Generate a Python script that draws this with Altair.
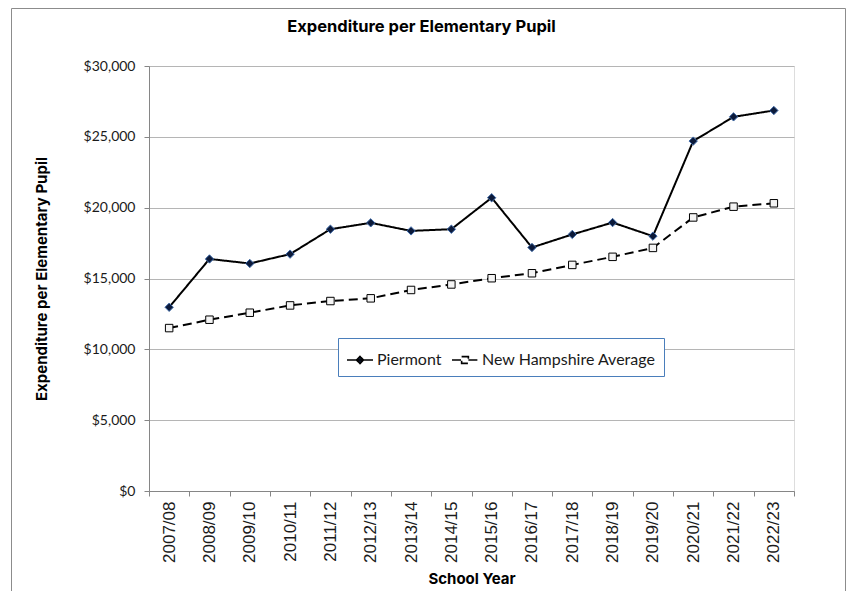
import altair as alt
import pandas as pd

years = ["2007/08", "2008/09", "2009/10", "2010/11", "2011/12", "2012/13", "2013/14",
         "2014/15", "2015/16", "2016/17", "2017/18", "2018/19", "2019/20", "2020/21",
         "2021/22", "2022/23"]
piermont = [12970, 16380, 16060, 16720, 18480, 18930, 18360, 18480, 20700, 17190,
            18110, 18950, 17990, 24700, 26410, 26860]
nh_avg = [11500, 12090, 12585, 13100, 13410, 13600, 14190, 14580, 15020, 15370,
          15960, 16530, 17160, 19310, 20070, 20310]
series_names = ["Piermont", "New Hampshire Average"]
y_ticks = [0, 5000, 10000, 15000, 20000, 25000, 30000]

rows = []
for i, yr in enumerate(years):
    rows.append({"year": yr, "series": series_names[0], "value": piermont[i]})
    rows.append({"year": yr, "series": series_names[1], "value": nh_avg[i]})
df = pd.DataFrame(rows)

PW, PH = 645, 425

x_enc = alt.X(
    "year:O", sort=years,
    scale=alt.Scale(type="band", paddingInner=0, paddingOuter=0),
    axis=alt.Axis(
        title="School Year", tickBand="extent", labelAngle=270, labelAlign="right",
        labelBaseline="middle", labelPadding=5, labelFont="Liberation Sans",
        labelFontSize=17, labelColor="#1a1a1a", tickSize=5, tickColor="#868686",
        domainColor="#868686", grid=False, titleFont="Inter", titleFontSize=15,
        titleFontWeight="bold", titleColor="black", titleY=87, titleBaseline="middle",
    ),
)
y_enc = alt.Y(
    "value:Q",
    scale=alt.Scale(domain=[0, 30000]),
    axis=alt.Axis(
        values=y_ticks, format="$,.0f", title="Expenditure per Elementary Pupil",
        labelFont="Lato", labelFontSize=14, labelColor="#1a1a1a", labelPadding=9,
        tickSize=5, tickColor="#868686", domainColor="#868686", gridColor="#b5b5b5",
        titleFont="Inter", titleFontSize=15, titleFontWeight="bold", titleColor="black",
        titleX=-108, titleY=PH / 2, titleAngle=270, titleAlign="center",
        titleBaseline="middle",
    ),
)

shape_sig = ("datum.value === 'Piermont' ? "
             "'M-1,0H1M0,-0.27L0.27,0L0,0.27L-0.27,0Z' : "
             "'M-1,0H-0.26M0.26,0H1M-0.26,-0.26H0.26V0.26H-0.26Z'")
fill_sig = "datum.value === 'Piermont' ? '#0c1a3a' : '#ffffff'"

legend = alt.Legend(
    title=None, orient="none", legendX=189, legendY=272, direction="horizontal",
    strokeColor="#4a7ebb", fillColor="white", padding=8, symbolSize=676,
    symbolStrokeWidth=1.6, labelFont="Lato", labelFontSize=16, labelColor="#1a1a1a",
    labelOffset=3, columnPadding=6, labelLimit=400,
    symbolType=alt.ExprRef(expr=shape_sig),
    symbolFillColor=alt.ExprRef(expr=fill_sig),
    symbolStrokeColor="black",
)

base = alt.Chart(df)

lines = base.mark_line(strokeWidth=2).encode(
    x=x_enc, y=y_enc,
    color=alt.Color("series:N", scale=alt.Scale(domain=series_names, range=["black", "black"]),
                    legend=legend),
    strokeDash=alt.StrokeDash("series:N",
                              scale=alt.Scale(domain=series_names, range=[[1, 0], [9, 5]]),
                              legend=None),
)

pts_p = base.transform_filter(alt.datum.series == series_names[0]).mark_point(
    shape="diamond", filled=True, size=70, fill="#0c1a3a", stroke="#3e6aa8",
    strokeWidth=1, opacity=1,
).encode(x=x_enc, y=y_enc)

pts_nh = base.transform_filter(alt.datum.series == series_names[1]).mark_point(
    shape="square", filled=True, size=56, fill="#f4f4f4", stroke="black",
    strokeWidth=1, opacity=1,
).encode(x=x_enc, y=y_enc)

frame = alt.Chart(pd.DataFrame({"f": [0]})).mark_rect(
    fill=None, stroke="#8c8c8c", strokeWidth=1
).encode(x=alt.value(-137.5), x2=alt.value(696.5), y=alt.value(-57.5), y2=alt.value(560))

chart = alt.layer(frame, lines, pts_nh, pts_p).properties(
    width=PW, height=PH,
    title=alt.Title("Expenditure per Elementary Pupil", font="Inter", fontSize=16.5,
                    fontWeight="bold", color="black", anchor="middle", dx=-50, offset=-27),
    autosize=alt.AutoSizeParams(type="none"),
    padding={"left": 141, "top": 58, "right": 54, "bottom": 100},
).configure_view(stroke=None).configure(background="white")

chart.save("out.html", embed_options={"renderer": "svg", "actions": False})
